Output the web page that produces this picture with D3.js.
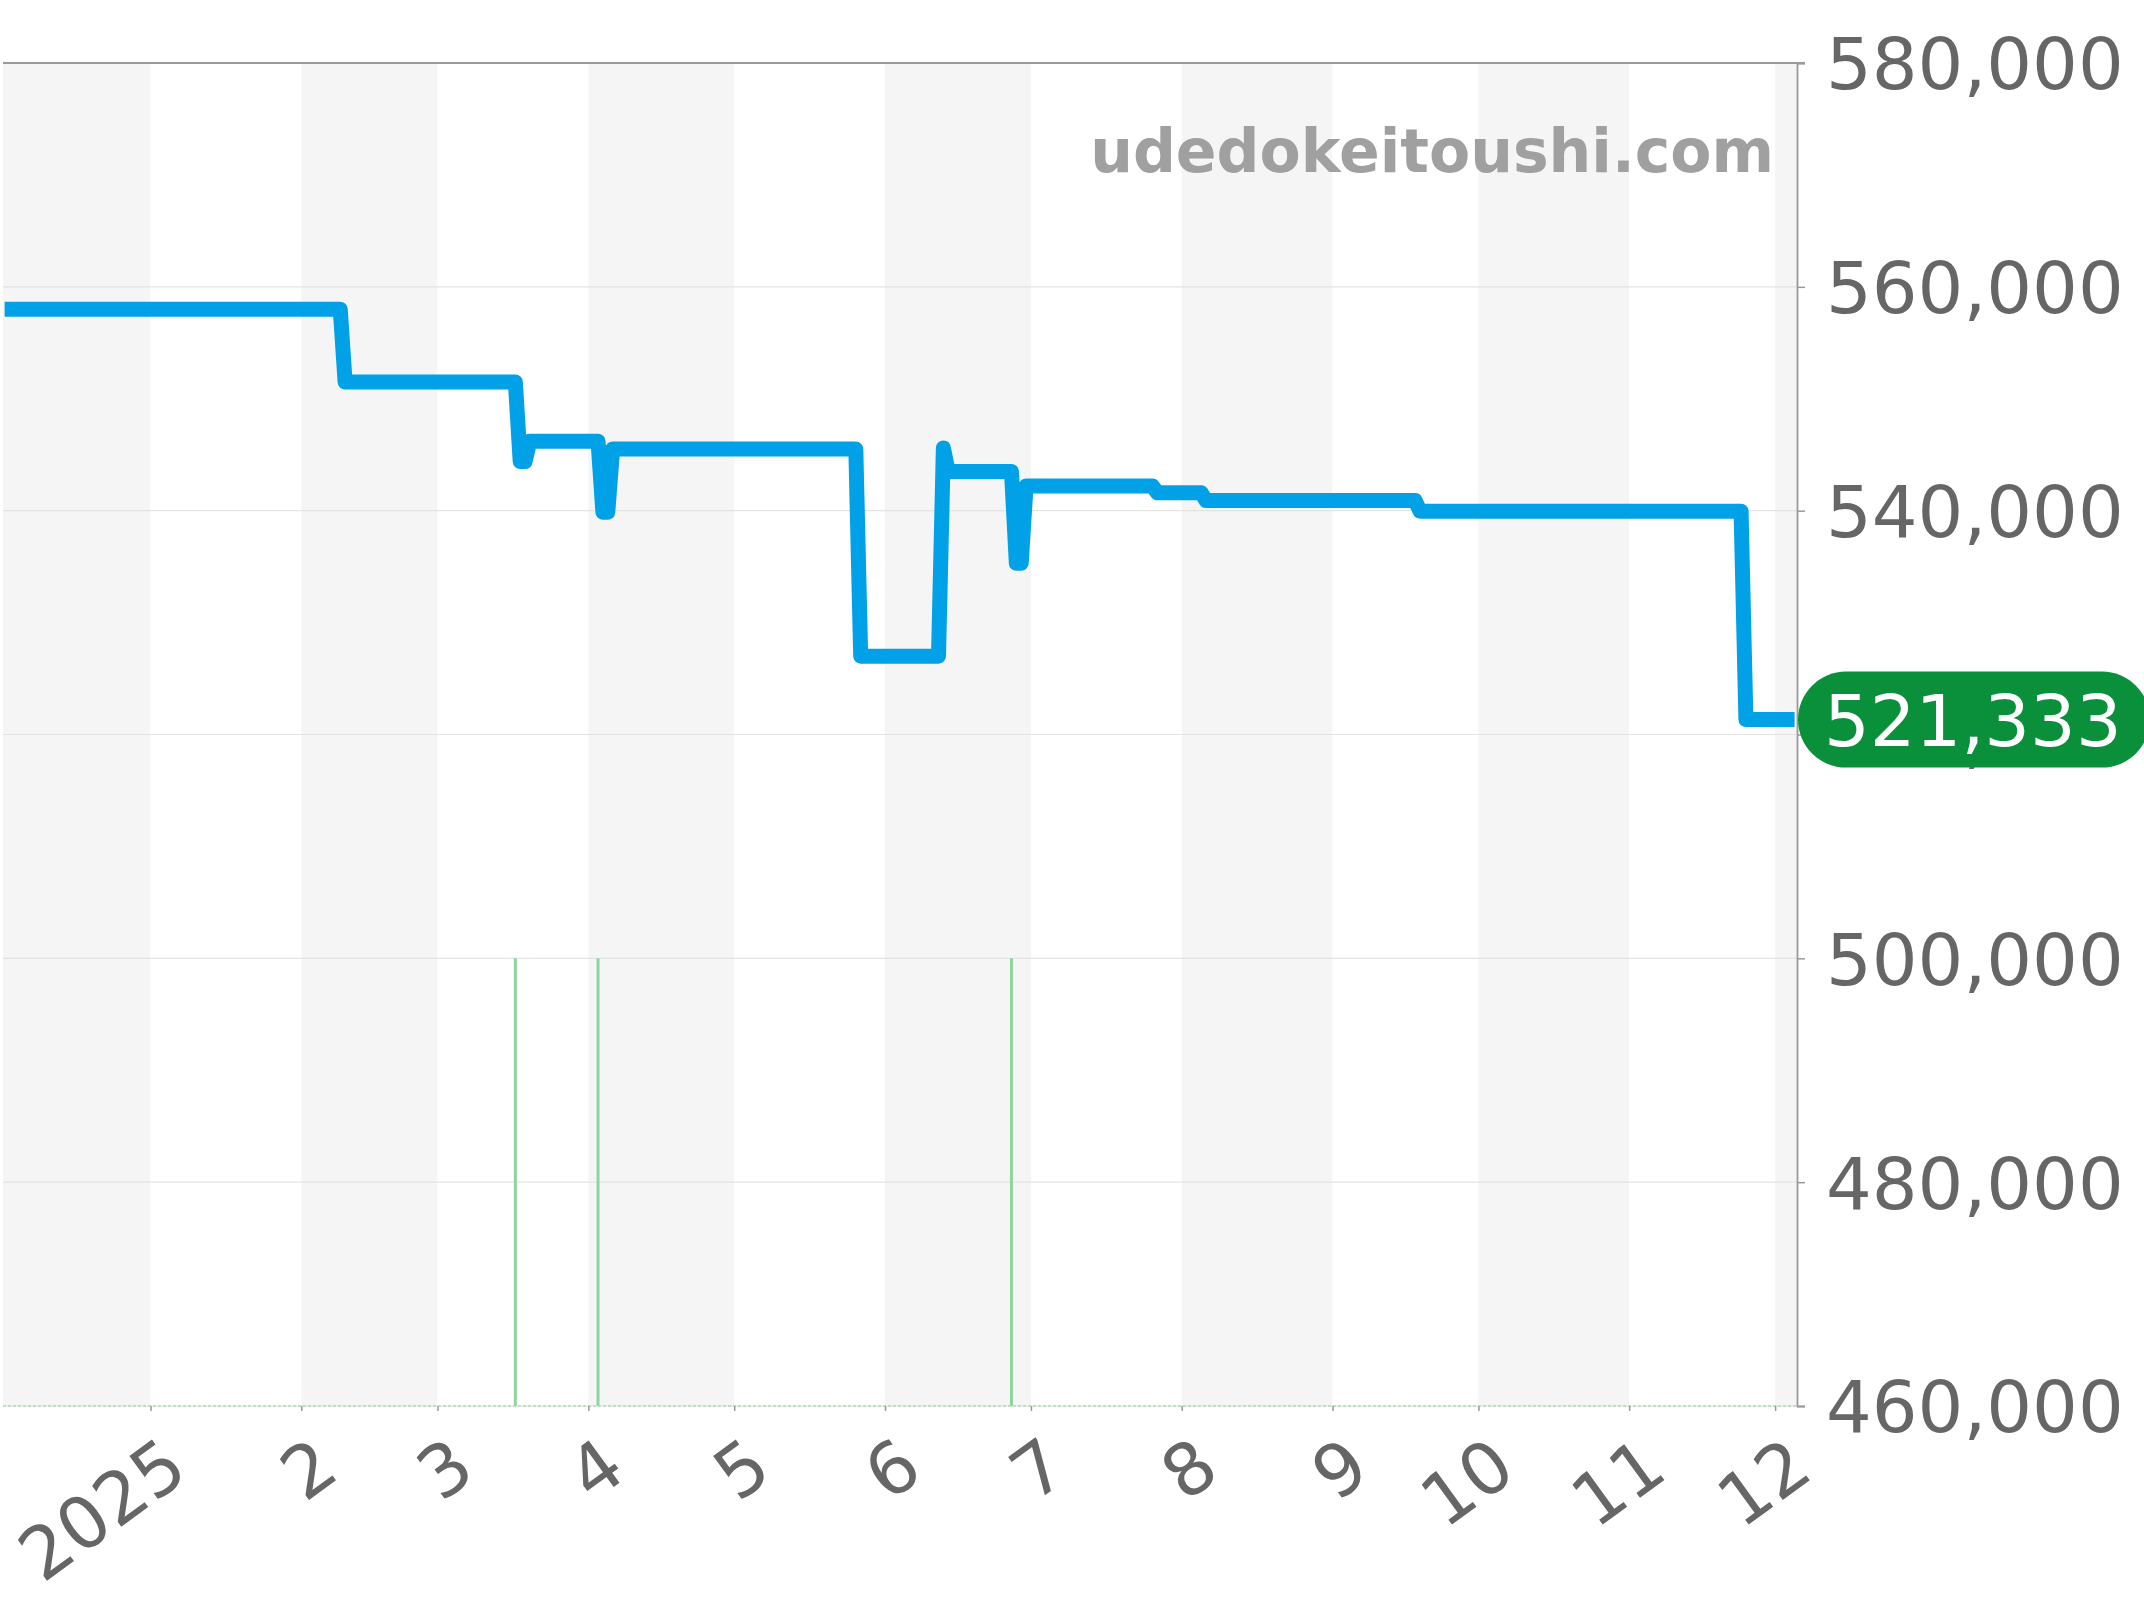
<!DOCTYPE html>
<html>
<head>
<meta charset="utf-8">
<script src="https://cdn.jsdelivr.net/npm/d3@7"></script>
<style>
  html, body { margin: 0; padding: 0; background: #ffffff; }
  svg { display: block; }
</style>
</head>
<body>
<svg id="chart" width="2144" height="1600"></svg>
<script>
// ---- data ----
const priceDates = ["2024-12-02","2025-02-09","2025-02-10","2025-03-17","2025-03-18","2025-03-19","2025-03-20",
  "2025-04-03","2025-04-04","2025-04-05","2025-04-06","2025-05-26","2025-05-27","2025-06-12","2025-06-13",
  "2025-06-14","2025-06-27","2025-06-28","2025-06-29","2025-06-30","2025-07-26","2025-07-27","2025-08-05",
  "2025-08-06","2025-09-18","2025-09-19","2025-11-24","2025-11-25","2025-12-05"];
const priceValues = [558000,558000,551500,551500,544400,544400,546200,
  546200,539850,539850,545500,545500,527000,527000,545600,
  543500,543500,535300,535300,542200,542200,541600,541600,
  540900,540900,539950,539950,521333,521333];
const volumeDates = ["2025-03-17","2025-04-03","2025-06-27"];
const volumeCounts = [1,1,1];
const yTickValues = [460000,480000,500000,520000,540000,560000,580000];
const monthTickDates = ["2025-01-01","2025-02-01","2025-03-01","2025-04-01","2025-05-01","2025-06-01",
  "2025-07-01","2025-08-01","2025-09-01","2025-10-01","2025-11-01","2025-12-01"];
const monthTickLabels = ["2025","2","3","4","5","6","7","8","9","10","11","12"];
const lastValueLabel = "521,333";
const watermark = "udedokeitoushi.com";

(function () {
// ---- layout ----
const pLeft = 3, pRight = 1797, pTop = 63, pBottom = 1406;
const parse = s => { const [yy,m,d] = s.split("-").map(Number); return new Date(yy, m-1, d); };

const x = d3.scaleTime()
  .domain([new Date(2024, 11, 1, 16), new Date(2025, 11, 5, 12)])
  .range([pLeft, pRight]);
const y = d3.scaleLinear().domain([460000, 580000]).range([pBottom, pTop]);
const yVol = d3.scaleLinear().domain([0, 3]).range([pBottom, pTop]);

const svg = d3.select("#chart");
const font = "'DejaVu Sans', Verdana, sans-serif";
const labelColor = "#666666";
const fs = 72;

// month bands
const monthStarts = d3.timeMonth.range(new Date(2024, 11, 1), new Date(2026, 0, 1));
svg.append("g").selectAll("rect")
  .data(monthStarts)
  .join("rect")
  .attr("x", d => Math.max(pLeft, x(d)))
  .attr("y", pTop)
  .attr("width", d => Math.max(0, Math.min(pRight, x(d3.timeMonth.offset(d, 1))) - Math.max(pLeft, x(d))))
  .attr("height", pBottom - pTop)
  .attr("fill", (d, i) => i % 2 === 0 ? "#f5f5f5" : "#ffffff");

// horizontal grid lines
svg.append("g").selectAll("line")
  .data(yTickValues)
  .join("line")
  .attr("x1", pLeft).attr("x2", pRight)
  .attr("y1", d => y(d)).attr("y2", d => y(d))
  .attr("stroke", "#e3e3e3").attr("stroke-width", 1.2);

// volume bars
svg.append("g").selectAll("line")
  .data(volumeDates.map((d, i) => ({ date: parse(d), count: volumeCounts[i] })))
  .join("line")
  .attr("x1", d => x(d.date)).attr("x2", d => x(d.date))
  .attr("y1", yVol(0)).attr("y2", d => yVol(d.count))
  .attr("stroke", "#8fd49c").attr("stroke-width", 3);

// bottom dotted baseline
svg.append("line")
  .attr("x1", pLeft).attr("x2", pRight)
  .attr("y1", pBottom).attr("y2", pBottom)
  .attr("stroke", "#a9dcb2").attr("stroke-width", 1.5)
  .attr("stroke-dasharray", "3,2");

// price line
const series = priceDates.map((d, i) => ({ date: parse(d), value: priceValues[i] }));
const line = d3.line().x(d => x(d.date)).y(d => y(d.value));
svg.append("path")
  .datum(series)
  .attr("d", line)
  .attr("fill", "none")
  .attr("stroke", "#00a1e6")
  .attr("stroke-width", 15)
  .attr("stroke-linejoin", "round")
  .attr("stroke-linecap", "butt");

// top border
svg.append("line")
  .attr("x1", pLeft).attr("x2", pRight + 8)
  .attr("y1", pTop).attr("y2", pTop)
  .attr("stroke", "#999999").attr("stroke-width", 1.8);

// right axis
const yAxis = d3.axisRight(y)
  .tickValues(yTickValues)
  .tickSize(8)
  .tickPadding(21)
  .tickFormat(d3.format(","));
const gy = svg.append("g").attr("transform", `translate(${pRight},0)`).call(yAxis);
gy.select(".domain").attr("stroke", "#999999").attr("stroke-width", 1.8);
gy.selectAll(".tick line").attr("stroke", "#999999").attr("stroke-width", 1.5);
gy.selectAll(".tick text")
  .attr("fill", labelColor)
  .attr("font-family", font)
  .attr("font-size", fs)
  .attr("dy", "0.36em");

// bottom axis
const monthDates = monthTickDates.map(parse);
const xAxis = d3.axisBottom(x)
  .tickValues(monthDates)
  .tickSize(5)
  .tickFormat((d, i) => monthTickLabels[i]);
const gx = svg.append("g").attr("transform", `translate(0,${pBottom})`).call(xAxis);
gx.select(".domain").remove();
gx.selectAll(".tick line").attr("stroke", "#999999").attr("stroke-width", 1.5);
gx.selectAll(".tick text")
  .attr("fill", labelColor)
  .attr("font-family", font)
  .attr("font-size", fs)
  .attr("text-anchor", "end")
  .attr("x", 0).attr("y", 0).attr("dy", 0)
  .attr("transform", "translate(40,70) rotate(-36)");

// watermark
svg.append("text")
  .attr("x", 1774).attr("y", 172)
  .attr("text-anchor", "end")
  .attr("font-family", font)
  .attr("font-weight", "bold")
  .attr("font-size", 60)
  .attr("fill", "#a0a0a0")
  .text(watermark);

// last value pill
const lastY = y(priceValues[priceValues.length - 1]);
const pillH = 96;
svg.append("rect")
  .attr("x", pRight + 1).attr("y", lastY - pillH / 2)
  .attr("width", 352).attr("height", pillH)
  .attr("rx", pillH / 2).attr("ry", pillH / 2)
  .attr("fill", "#0a903a");
svg.append("text")
  .attr("x", pRight + 27).attr("y", lastY)
  .attr("dy", "0.36em")
  .attr("font-family", font)
  .attr("font-size", fs)
  .attr("fill", "#ffffff")
  .text(lastValueLabel);
})();
</script>
</body>
</html>
